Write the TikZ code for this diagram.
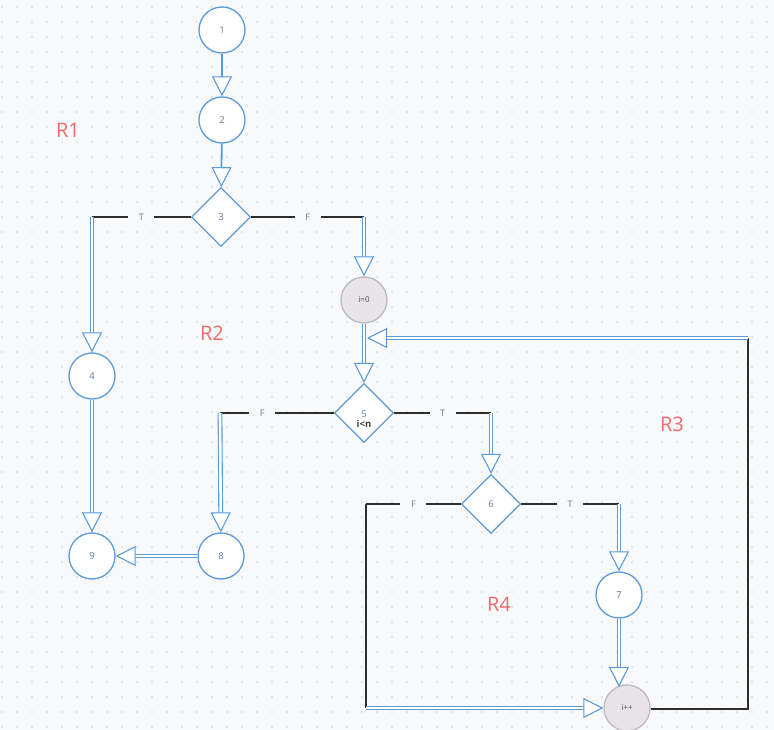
\documentclass[tikz,border=0pt]{standalone}
\usepackage{fontspec}
\setmainfont{Open Sans}
\usetikzlibrary{shapes.geometric,arrows.meta}

\definecolor{bgcol}{HTML}{F8F9FB}
\definecolor{dotcol}{HTML}{DCDEE3}
\definecolor{flowblue}{HTML}{5B9BD8}
\definecolor{nodetext}{HTML}{5A80AA}
\definecolor{greyfill}{HTML}{E7E3E7}
\definecolor{greydraw}{HTML}{BEBBBE}
\definecolor{regred}{HTML}{EF6B6B}
\definecolor{branchcol}{HTML}{2E2E2E}

\tikzset{
  single/.style={draw=flowblue, line width=1.8pt, ->},
  flow/.style={draw=flowblue, line width=1.1pt, double=white, double distance=2.6pt, ->},
  branch/.style={draw=branchcol, line width=1.4pt},
  tf/.style={fill=bgcol, text=black!55, inner sep=0pt, minimum width=26pt, minimum height=10pt,
    font=\fontsize{9}{10}\selectfont},
  decision/.style={diamond, draw=flowblue, line width=1.3pt, fill=white, inner sep=0pt,
    minimum width=59pt, minimum height=59pt, text=nodetext, font=\fontsize{9.5}{11}\selectfont},
  counter/.style={circle, draw=greydraw, line width=1.3pt, fill=greyfill, inner sep=0pt,
    minimum size=46pt, text=black!70, font=\fontsize{8}{10}\selectfont},
  region/.style={text=regred, font=\fontsize{20}{24}\selectfont}
}

\begin{document}
\begin{tikzpicture}[x=1pt, y=-1pt, >={Triangle[fill=white, width=20pt, length=20pt, line width=1.1pt]}]
% background and dot grid
\fill[bgcol] (0,0) rectangle (774,730);
\foreach \gx in {2,17,...,772}
  \foreach \gy in {7,22,...,727}
    \fill[dotcol] (\gx,\gy) circle (1.1);
\useasboundingbox (0,0) rectangle (774,730);

\begin{scope}[every node/.style={circle, draw=flowblue, line width=1.3pt, fill=white,
    minimum size=46pt, inner sep=0pt, text=nodetext, font=\fontsize{9.5}{11}\selectfont}]
    \node (n1) at (222,30) {1};
    \node (n2) at (222,120) {2};
    \node (n4) at (92,376) {4};
    \node (n9) at (92,556) {9};
    \node (n8) at (221,556) {8};
    \node (n7) at (619,595) {7};
\end{scope}

\begin{scope}[]
    \node[decision] (n3) at (221,217) {3};
    \node[decision, label={[text=nodetext, yshift=-6pt, align=center,
        font=\fontsize{9.5}{11}\selectfont]center:{5\\[-1pt]{\color{black!75}\bfseries i<n}}}]
        (n5) at (364,413) {};
    \node[decision] (n6) at (491,504) {6};
    \node[counter] (ni0) at (364,300) {i=0};
    \node[counter] (nipp) at (627,708) {i++};
\end{scope}

% region names
\node[region] (r1) at (68,130) {R1};
\node[region] (r2) at (212,333) {R2};
\node[region] (r3) at (672,424) {R3};
\node[region] (r4) at (499,604) {R4};

% corner points
\coordinate (c3t) at (92,217);
\coordinate (c3f) at (364,217);
\coordinate (c5f) at (220,413);
\coordinate (c5t) at (491,413);
\coordinate (c6f) at (366,504);
\coordinate (c6b) at (366,708);
\coordinate (c6t) at (619,504);
\coordinate (c7b) at (619,687);
\coordinate (cb) at (748,709);
\coordinate (ct) at (748,338);
\coordinate (cin) at (367,338);

\begin{scope}[]
    \draw [single] (n1) -- (n2);
    \draw [single] (n2) -- (n3);
    \draw [branch] (n3.west) -- node[tf] {T} (c3t);
    \draw [branch] (n3.east) -- node[tf] {F} (c3f);
    \draw [flow] (c3t) -- (n4);
    \draw [flow] (c3f) -- (ni0);
    \draw [flow] (ni0) -- (n5);
    \draw [flow] (n4) -- (n9);
    \draw [branch] (n5.west) -- node[tf, pos=0.63] {F} (c5f);
    \draw [branch] (n5.east) -- node[tf] {T} (c5t);
    \draw [flow] (c5f) -- (n8);
    \draw [flow] (c5t) -- (n6);
    \draw [flow] (n8) -- (n9);
    \draw [branch] (n6.west) -- node[tf] {F} (c6f);
    \draw [branch] (n6.east) -- node[tf] {T} (c6t);
    \draw [flow] (c6t) -- (n7);
    \draw [flow] (n7.south) -- (c7b);
    \draw [branch] (c6f) -- (c6b);
    \draw [flow] (c6b) -- (nipp);
    \draw [branch] (nipp.east |- cb) -- (cb) -- (ct);
    \draw [flow] (ct) -- (cin);
\end{scope}
\end{tikzpicture}
\end{document}
